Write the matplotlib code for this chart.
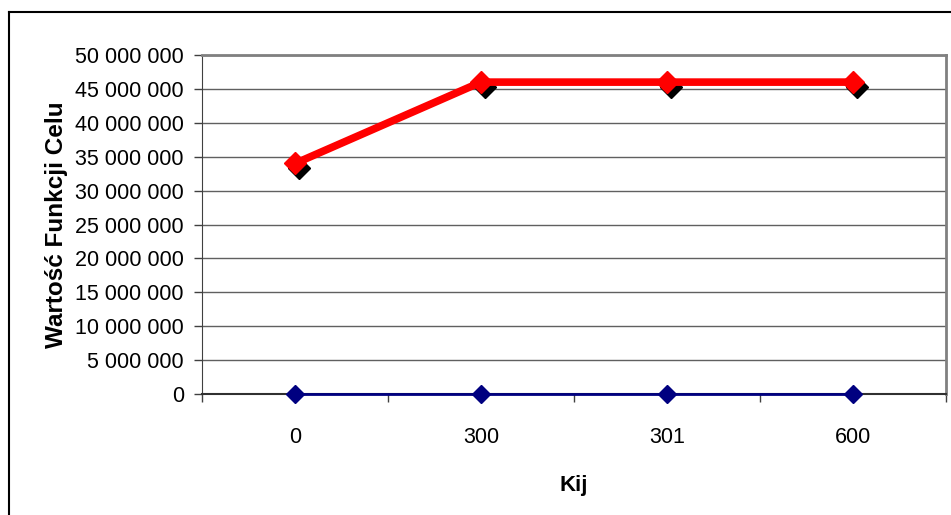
import numpy as np
import matplotlib.pyplot as plt
import matplotlib.transforms as mtransforms
from matplotlib.lines import Line2D

plt.rcParams['font.family'] = ['Liberation Sans', 'DejaVu Sans']

# data
kij = ['0', '300', '301', '600']
wartosc = [34000000, 46000000, 46000000, 46000000]
dolna = [0, 0, 0, 0]
y_ticks = np.arange(0, 50000001, 5000000)

fig = plt.figure(figsize=(9.51, 5.15), dpi=100)
ax = fig.add_axes([202/951, 1-394/515, 744/951, 339/515])

x = np.arange(len(kij))

# shadow of the red markers
shadow = mtransforms.offset_copy(ax.transData, fig=fig, x=4, y=-5, units='dots')
ax.plot(x, wartosc, linestyle='none', marker='D', markersize=11, color='black',
        transform=shadow, zorder=3)
ax.plot(x, wartosc, color='#ff0000', linewidth=5.5, marker='D', markersize=11,
        zorder=4, solid_capstyle='butt')
ax.plot(x, dolna, color='#000080', linewidth=2, marker='D', markersize=9,
        zorder=5, clip_on=False)

ax.set_xlim(-0.5, 3.5)
ax.set_ylim(0, 50000000)
ax.set_yticks(y_ticks)
ax.set_yticklabels([f'{v:,}'.replace(',', ' ') for v in y_ticks], fontsize=15.5)
ax.yaxis.grid(True, color='#606060', linewidth=1)
ax.set_axisbelow(True)

ax.set_xticks(x)
ax.set_xticklabels(kij, fontsize=15.5)
ax.tick_params(axis='x', length=0, pad=24)
ax.set_xticks(np.arange(-0.5, 4, 1), minor=True)
ax.tick_params(axis='x', which='minor', length=6, width=1, color='#404040', direction='out')
ax.tick_params(axis='y', length=6, width=1, color='#404040', direction='out', pad=7)

for s in ['top', 'right']:
    ax.spines[s].set_color('#808080')
    ax.spines[s].set_linewidth(2)
ax.spines['left'].set_color('#404040')
ax.spines['bottom'].set_color('#303030')
ax.spines['bottom'].set_linewidth(1.5)

ax.set_xlabel('Kij', fontsize=16, fontweight='bold', labelpad=19)
ax.set_ylabel('Wartość Funkcji Celu', fontsize=17.5, fontweight='bold', labelpad=5)

# outer chart frame
fig.add_artist(Line2D([8.5/951, 8.5/951], [0, 1-12/515], color='black', linewidth=1.5))
fig.add_artist(Line2D([8.5/951, 1], [1-12/515, 1-12/515], color='black', linewidth=1.5))

fig.savefig('out.png', dpi=100)
